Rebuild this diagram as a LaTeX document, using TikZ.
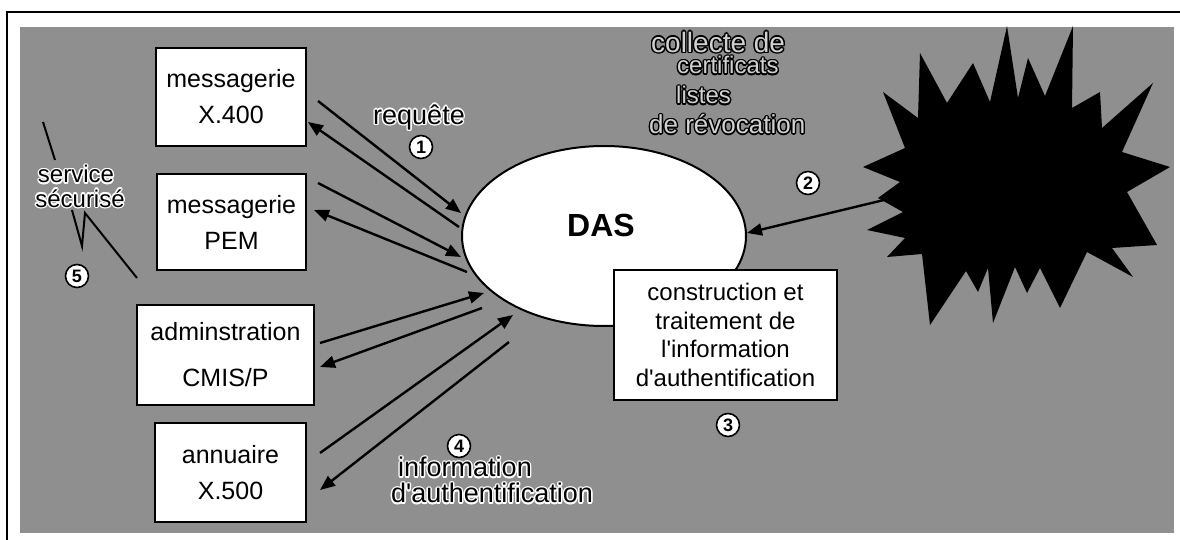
\documentclass[tikz,border=0pt]{standalone}
\usepackage{fontspec}
\setmainfont{Liberation Sans}
\usepackage{contour}
\contourlength{1.4pt}
\contournumber{12}
\usetikzlibrary{shapes.geometric,arrows.meta}
\definecolor{panel}{gray}{0.56}
\definecolor{hollow}{gray}{0.82}

\begin{document}
\begin{tikzpicture}[x=1pt,y=-1pt,
  box/.style={draw=black,line width=2pt,fill=white,align=center,inner sep=0pt,
    font=\fontsize{25}{36}\selectfont},
  conn/.style={line width=2.4pt,-{Triangle[length=15pt,width=12pt]}},
  num/.style={circle,draw=black,line width=1.6pt,fill=white,inner sep=0pt,
    minimum size=23pt,font=\bfseries\fontsize{18}{18}\selectfont},
  halo/.style={inner sep=0pt,font=\fontsize{27}{27}\selectfont},
  emboss/.style={inner sep=0pt,anchor=west,text=hollow},
  pointer/.style={line width=2pt,line join=miter}]

\useasboundingbox (0,0) rectangle (1180,540);
\fill[white] (0,0) rectangle (1180,540);
\draw[line width=2.2pt] (7,12) rectangle (1195,555);
\fill[panel] (20,27) rectangle (1174,533);

% external source of certificates
\fill[black] (863,167) -- (905,148) -- (883,92) -- (918,118) -- (920,53)
  -- (947,103) -- (973,63) -- (990,102) -- (1007,26) -- (1018,98)
  -- (1028,58) -- (1045,96) -- (1073,26) -- (1072,108) -- (1100,92)
  -- (1102,128) -- (1153,83) -- (1122,152) -- (1170,167) -- (1127,192)
  -- (1157,245) -- (1112,248) -- (1133,277) -- (1087,252) -- (1060,308)
  -- (1040,268) -- (1027,293) -- (1015,267) -- (993,323) -- (988,268)
  -- (978,292) -- (966,271) -- (930,325) -- (922,254) -- (887,257)
  -- (905,238) -- (867,230) -- (903,212) -- (878,198) -- (900,182) -- cycle;
\coordinate (src) at (884,200);

% services
\node[box,minimum width=150pt,minimum height=98pt] (x400) at (231,97) {messagerie\\X.400};
\node[box,minimum width=149pt,minimum height=96pt] (pem) at (231.5,222) {messagerie\\PEM};
\node[box,minimum width=177pt,minimum height=100pt] (cmis) at (225.5,355) {adminstration\\[10pt]CMIS/P};
\node[box,minimum width=151pt,minimum height=99pt] (x500) at (230.5,472.5) {annuaire\\X.500};

% DAS
\node[ellipse,draw=black,line width=2pt,fill=white,minimum width=284pt,minimum height=180pt] (das) at (604,236) {};
\node[inner sep=0pt,font=\bfseries\fontsize{32}{32}\selectfont] (dastxt) at (601,225) {DAS};
\node[box,minimum width=223pt,minimum height=130pt,font=\fontsize{24}{28.5}\selectfont] (build) at (725.5,335)
  {construction et\\traitement de\\l\textquotesingle information\\d\textquotesingle authentification};

% connector end points
\coordinate (x400o) at (318,101); \coordinate (x400i) at (308,122);
\coordinate (das1i) at (461,213); \coordinate (das1o) at (459,227);
\coordinate (pemo) at (318,183);  \coordinate (pemi) at (314,210);
\coordinate (das2i) at (461,257); \coordinate (das2o) at (467,272);
\coordinate (cmiso) at (320,343); \coordinate (cmisi) at (320,367);
\coordinate (das3i) at (484,293); \coordinate (das3o) at (482,308);
\coordinate (x500o) at (320,453); \coordinate (x500i) at (320,490);
\coordinate (das4i) at (513,315); \coordinate (das4o) at (509,342);
\coordinate (das5) at (747,233);

\draw[conn] (x400o) -- (das1i);
\draw[conn] (das1o) -- (x400i);
\draw[conn] (pemo) -- (das2i);
\draw[conn] (das2o) -- (pemi);
\draw[conn] (cmiso) -- (das3i);
\draw[conn] (das3o) -- (cmisi);
\draw[conn] (x500o) -- (das4i);
\draw[conn] (das4o) -- (x500i);
\draw[conn] (src) -- (das5);

% secure service pointers
\coordinate (p1a) at (43,122); \coordinate (p1b) at (55,160);
\coordinate (p2a) at (72,210); \coordinate (p2b) at (82,246);
\coordinate (p2c) at (85,213); \coordinate (p2d) at (137,278);
\draw[pointer] (p1a) -- (p1b);
\draw[pointer] (p2a) -- (p2b) -- (p2c) -- (p2d);

% labels on the panel
\node[halo] (req) at (419,118) {\contour{white}{requête}};
\node[halo] (info) at (465,468) {\contour{white}{information}};
\node[halo] (dauth) at (492,494) {\contour{white}{d\textquotesingle authentification}};
\node[halo,font=\fontsize{24}{24}\selectfont] (serv) at (76,175) {\contour{white}{service}};
\node[halo,font=\fontsize{24}{24}\selectfont] (secu) at (80,199) {\contour{white}{sécurisé}};

\node[emboss,font=\fontsize{28}{28}\selectfont] (coll) at (651,43) {\contour{black}{collecte de}};
\node[emboss,font=\fontsize{24}{24}\selectfont] (cert) at (677,66) {\contour{black}{certificats}};
\node[emboss,font=\fontsize{24}{24}\selectfont] (list) at (676,96) {\contour{black}{listes}};
\node[emboss,font=\fontsize{26}{26}\selectfont] (revo) at (649,125) {\contour{black}{de révocation}};

% step numbers
\node[num] (n1) at (421,147) {1};
\node[num] (n2) at (808,183) {2};
\node[num] (n3) at (728,425) {3};
\node[num] (n4) at (459,446) {4};
\node[num] (n5) at (77,276) {5};
\end{tikzpicture}
\end{document}
